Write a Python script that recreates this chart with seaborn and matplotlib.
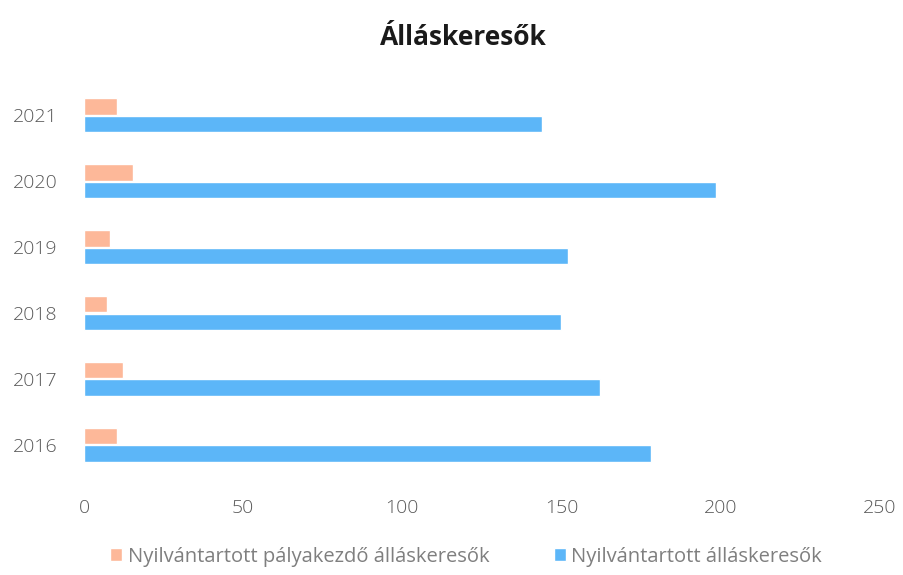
import pandas as pd
import seaborn as sns
import matplotlib.pyplot as plt

years = ['2021', '2020', '2019', '2018', '2017', '2016']
palyakezdo = [10.5, 15.5, 8.2, 7.2, 12.2, 10.4]
osszes = [144, 198.5, 152, 150, 162, 178.3]
series = ['Nyilvántartott pályakezdő álláskeresők', 'Nyilvántartott álláskeresők']

df = pd.DataFrame({
    'ev': years * 2,
    'fo': palyakezdo + osszes,
    'sorozat': [series[0]] * len(years) + [series[1]] * len(years),
})

sns.set_style('white')
plt.rcParams['font.family'] = ['Open Sans', 'DejaVu Sans']

fig = plt.figure(figsize=(9.04, 5.75), dpi=100)
ax = fig.add_axes([0.093, 0.169, 0.880, 0.688])

sns.barplot(data=df, x='fo', y='ev', hue='sorozat', order=years, hue_order=series,
            palette=['#FDB899', '#5CB6F8'], saturation=1, width=0.54, gap=0.06,
            orient='h', ax=ax)

ax.set_xlim(0, 250)
ax.set_xticks([0, 50, 100, 150, 200, 250])
ax.set_xlabel('')
ax.set_ylabel('')
ax.tick_params(axis='both', length=0, labelsize=14, labelcolor='#595959')
ax.tick_params(axis='x', pad=15)
ax.tick_params(axis='y', pad=19)
for lab in ax.get_xticklabels() + ax.get_yticklabels():
    lab.set_fontweight('light')
sns.despine(ax=ax, left=True, bottom=True)

fig.suptitle('Álláskeresők', x=0.513, y=0.958, fontsize=19, fontweight='bold', color='#1a1a1a')

leg = ax.legend(loc='center', bbox_to_anchor=(0.48, -0.2), ncol=2, frameon=False,
                fontsize=14.5, handlelength=0.6, handleheight=0.6, handletextpad=0.25,
                columnspacing=3.2)
for t in leg.get_texts():
    t.set_color('#7F7F7F')

fig.savefig('out.png', dpi=100)
